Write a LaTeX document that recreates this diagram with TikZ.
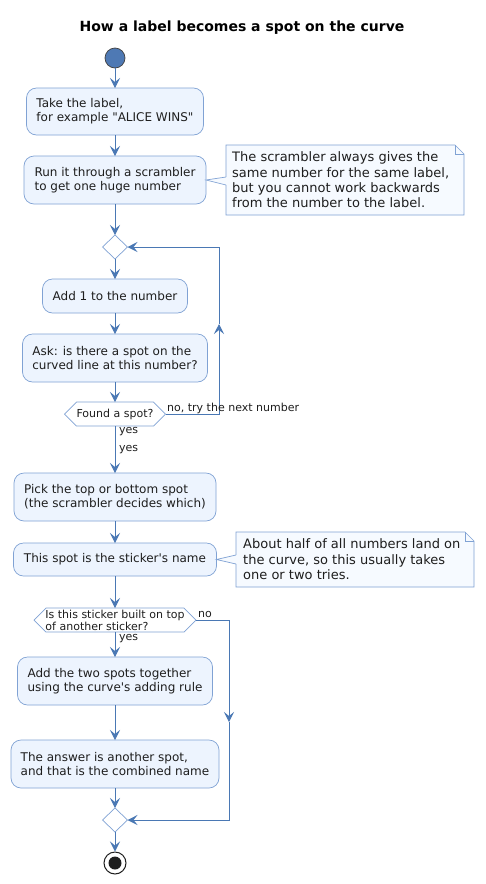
\documentclass[tikz,border=0pt]{standalone}
\usepackage{fontspec}
\setmainfont{DejaVu Sans}[Ligatures=TeXOff]
\usetikzlibrary{arrows.meta,shapes.geometric,calc}
\definecolor{arrc}{RGB}{74,120,180}
\definecolor{boxc}{RGB}{128,162,212}
\definecolor{boxf}{RGB}{237,244,254}
\definecolor{notef}{RGB}{246,250,255}
\definecolor{txt}{RGB}{30,30,30}
\definecolor{startc}{RGB}{78,121,180}
\begin{document}
\begin{tikzpicture}[x=1pt,y=-1pt,
 act/.style={draw=boxc, fill=boxf, rounded corners=10pt, line width=0.7pt, align=left, font=\fontsize{12}{14}\selectfont, text=txt, inner sep=0pt, outer sep=0pt},
 arr/.style={draw=arrc, line width=1pt, -{Stealth[length=10pt,width=10pt,inset=4pt]}},
 merge/.style={diamond, draw=boxc, fill=white, line width=0.7pt, minimum width=25pt, minimum height=24pt, inner sep=0pt, outer sep=0pt},
 dec/.style={draw=none, align=left, font=\fontsize{11}{12}\selectfont, text=txt, inner sep=0pt, outer sep=0pt},
 hexc/.style={draw=boxc, line width=0.7pt},
 lbl/.style={font=\fontsize{11}{12}\selectfont, text=txt, inner sep=0pt, anchor=west},
 notetxt/.style={font=\fontsize{13}{15.4}\selectfont, text=txt, align=left, inner sep=0pt, anchor=west},
 notebox/.style={draw=boxc, fill=notef, line width=0.7pt},
 noteshape/.style={draw=none, inner sep=0pt, outer sep=0pt},
]
\fill[white] (0,0) rectangle (485,884);
\useasboundingbox (0,0) rectangle (485,884);

\node[font=\bfseries\fontsize{14}{16}\selectfont, text=black] (title) at (242,28) {How a label becomes a spot on the curve};

\node[circle, fill=startc, draw=txt!85, line width=0.7pt, minimum size=20pt, inner sep=0pt] (start) at (115,58) {};

\node[act, minimum width=177pt, minimum height=47pt] (b1) at (115,111.5) {Take the label,\\for example "ALICE WINS"};
\node[act, minimum width=182pt, minimum height=48pt] (b2) at (115,180) {Run it through a scrambler\\to get one huge number};
\node[merge] (m1) at (115,247) {};
\node[act, minimum width=145pt, minimum height=34pt] (b3) at (115,296) {Add 1 to the number};
\node[act, minimum width=185pt, minimum height=48pt] (b4) at (115,358) {Ask: is there a spot on the\\curved line at this number?};
\node[dec, minimum width=101pt, minimum height=24pt] (found) at (115,414) {Found a spot?};
\draw[hexc] (found.west) -- ([xshift=12pt]found.north west) -- ([xshift=-12pt]found.north east) -- (found.east) -- ([xshift=-12pt]found.south east) -- ([xshift=12pt]found.south west) -- cycle;
\node[act, minimum width=202pt, minimum height=48pt] (b5) at (115,497) {Pick the top or bottom spot\\(the scrambler decides which)};
\node[act, minimum width=203pt, minimum height=33pt] (b6) at (115,559.5) {This spot is the sticker's name};
\node[dec, minimum width=162pt, minimum height=24pt] (built) at (115,620) {Is this sticker built on top\\of another sticker?};
\draw[hexc] (built.west) -- ([xshift=12pt]built.north west) -- ([xshift=-12pt]built.north east) -- (built.east) -- ([xshift=-12pt]built.south east) -- ([xshift=12pt]built.south west) -- cycle;
\node[act, minimum width=195pt, minimum height=48pt] (b7) at (115,681) {Add the two spots together\\using the curve's adding rule};
\node[act, minimum width=208pt, minimum height=48pt] (b8) at (115,764) {The answer is another spot,\\and that is the combined name};
\node[merge] (m2) at (115,820) {};
\node[circle, draw=txt, line width=1pt, fill=white, minimum size=22pt, inner sep=0pt] (stop) at (115,863) {};
\node[circle, fill=txt, minimum size=13pt, inner sep=0pt] (stopdot) at (stop.center) {};

% notes
\node[noteshape, minimum width=238pt, minimum height=70pt] (note1) at (345,180) {};
\draw[notebox] (note1.north west) -- ([xshift=-9pt]note1.north east) -- ([yshift=-9pt]note1.north east) -- (note1.south east) -- (note1.south west) -- cycle;
\draw[boxc, line width=0.7pt] ([xshift=-9pt]note1.north east) -- ([xshift=-9pt,yshift=-9pt]note1.north east) -- ([yshift=-9pt]note1.north east);
\node[notetxt] (note1t) at ([xshift=6pt]note1.west) {The scrambler always gives the\\same number for the same label,\\but you cannot work backwards\\from the number to the label.};
\fill[notef] (b2.east) -- ([xshift=1pt,yshift=3pt]note1.west) -- ([xshift=1pt,yshift=-5pt]note1.west) -- cycle;
\draw[boxc, line width=0.7pt] ([yshift=3pt]note1.west) -- (b2.east) -- ([yshift=-5pt]note1.west);

\node[noteshape, minimum width=238pt, minimum height=55pt] (note2) at (355,559.5) {};
\draw[notebox] (note2.north west) -- ([xshift=-9pt]note2.north east) -- ([yshift=-9pt]note2.north east) -- (note2.south east) -- (note2.south west) -- cycle;
\draw[boxc, line width=0.7pt] ([xshift=-9pt]note2.north east) -- ([xshift=-9pt,yshift=-9pt]note2.north east) -- ([yshift=-9pt]note2.north east);
\node[notetxt] (note2t) at ([xshift=7pt]note2.west) {About half of all numbers land on\\the curve, so this usually takes\\one or two tries.};
\fill[notef] (b6.east) -- ([xshift=1pt,yshift=4.5pt]note2.west) -- ([xshift=1pt,yshift=-4.5pt]note2.west) -- cycle;
\draw[boxc, line width=0.7pt] ([yshift=4.5pt]note2.west) -- (b6.east) -- ([yshift=-4.5pt]note2.west);

% arrows
\draw[arr] (start) -- (b1);
\draw[arr] (b1) -- (b2);
\draw[arr] (b2) -- (m1);
\draw[arr] (m1) -- (b3);
\draw[arr] (b3) -- (b4);
\draw[arr] (b4) -- (found);
\draw[arr] (found) -- (b5);
\draw[arr] (b5) -- (b6);
\draw[arr] (b6) -- (built);
\draw[arr] (built) -- (b7);
\draw[arr] (b7) -- (b8);
\draw[arr] (b8) -- (m2);
\draw[arr] (m2) -- (stop);

\coordinate (lb) at (219,414);
\coordinate (lmid) at (219,324);
\coordinate (lt) at (219,247);
\draw[arr] (found.east) -- (lb) -- (lmid);
\draw[arr] (lmid) -- (lt) -- (m1.east);

\coordinate (nr) at (229,620);
\coordinate (nmid) at (229,722);
\coordinate (nb) at (229,820);
\draw[arr] (built.east) -- (nr) -- (nmid);
\draw[arr] (nmid) -- (nb) -- (m2.east);

\node[lbl] (l1) at (167,408) {no, try the next number};
\node[lbl] (l2) at (119,432) {yes};
\node[lbl] (l3) at (119,450) {yes};
\node[lbl] (l4) at (198,614) {no};
\node[lbl] (l5) at (119,639) {yes};
\end{tikzpicture}
\end{document}
